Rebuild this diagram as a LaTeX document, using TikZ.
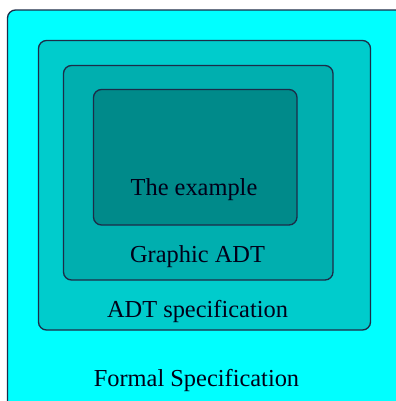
\documentclass[tikz,border=0pt]{standalone}
\usepackage{fontspec}
\setmainfont{Liberation Serif}
\definecolor{layerA}{HTML}{00FFFF}
\definecolor{layerB}{HTML}{00CCCC}
\definecolor{layerC}{HTML}{00AFAF}
\definecolor{layerD}{HTML}{008A8A}
\definecolor{rim}{HTML}{1C2C48}
\begin{document}
\begin{tikzpicture}[x=0.75pt,y=-0.75pt,
  layer/.style={draw=rim,line width=1pt,rounded corners=6pt},
  caption/.style={anchor=base,inner sep=0pt,text=black!90!blue,font=\fontsize{18.3}{21}\selectfont}]
  \clip (0,0) rectangle (396,401);
  \fill[white] (0,0) rectangle (396,401);
  % nested boxes, outermost first
  \draw[layer,fill=layerA] (7.5,10) rectangle (420,420);
  \draw[layer,fill=layerB] (38.5,40.5) rectangle (370.5,330);
  \draw[layer,fill=layerC] (63.5,65.5) rectangle (333,280);
  \draw[layer,fill=layerD] (93.5,89.5) rectangle (297,225);
  % labels
  \node[caption] (ex) at (194,195) {The example};
  \node[caption] (gr) at (197.5,262) {Graphic ADT};
  \node[caption] (adt) at (197.5,317) {ADT specification};
  \node[caption] (fs) at (196.5,386) {Formal Specification};
\end{tikzpicture}
\end{document}
